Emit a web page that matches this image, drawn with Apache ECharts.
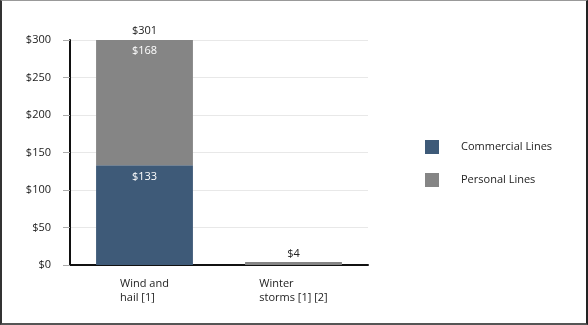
<!DOCTYPE html>
<html><head><meta charset="utf-8">
<script src="https://cdn.jsdelivr.net/npm/echarts@6/dist/echarts.min.js"></script>
<style>
html,body{margin:0;padding:0;background:#fff;}
#wrap{width:588px;height:325px;box-sizing:border-box;border-top:1px solid #999;border-left:2px solid #333;border-right:2px solid #222;border-bottom:2px solid #555;position:relative;overflow:hidden;}
#c{position:absolute;left:-2px;top:-1px;width:588px;height:325px;}
</style></head>
<body><div id="wrap"><div id="c"></div></div>
<script>
const categories = ["Wind and\nhail [1]", "Winter\nstorms [1] [2]"];
const commercialLines = [133, 0];
const personalLines = [168, 4];
const totals = [301, 4];
const yTicks = [0, 50, 100, 150, 200, 250, 300];

const font = "'Open Sans', 'Noto Sans', sans-serif";
const chart = echarts.init(document.getElementById('c'), null, {renderer: 'canvas'});
chart.setOption({
  animation: false,
  textStyle: {fontFamily: font},
  grid: {left: 70, right: 220, top: 40, bottom: 60, containLabel: false},
  legend: {
    data: ['Commercial Lines', 'Personal Lines'],
    orient: 'vertical', left: 420, top: 135,
    icon: 'rect', itemWidth: 14, itemHeight: 14, itemGap: 19,
    textStyle: {fontFamily: font, fontSize: 11, color: '#222', padding: [0, 0, 0, 17]}
  },
  xAxis: {
    type: 'category', data: categories,
    axisLine: {show: true, lineStyle: {color: '#111', width: 2}},
    axisTick: {show: false},
    axisLabel: {
      margin: 12, color: '#222', fontSize: 11, fontFamily: font, lineHeight: 14,
      formatter: v => v.split('\n').map(l => '{a|' + l + '}').join('\n'),
      rich: {a: {align: 'left', fontSize: 11, fontFamily: font, color: '#222', lineHeight: 14}}
    }
  },
  yAxis: [{
    type: 'value', min: 0, max: yTicks[yTicks.length - 1], interval: 50,
    axisLine: {show: false},
    axisTick: {show: true, length: 7, lineStyle: {color: '#aaa'}},
    axisLabel: {margin: 19, color: '#222', fontSize: 11, fontFamily: font, formatter: v => '$' + v},
    splitLine: {show: true, lineStyle: {color: '#e8e8e8', width: 1}}
  }, {
    type: 'value', min: 0, max: 308, position: 'left', offset: 0,
    axisLine: {show: true, lineStyle: {color: '#111', width: 2}},
    axisTick: {show: false}, axisLabel: {show: false}, splitLine: {show: false}
  }],
  series: [{
    name: 'Commercial Lines', type: 'bar', stack: 'a', barWidth: '65%',
    itemStyle: {color: '#3e5a78'},
    data: commercialLines,
    label: {show: true, position: 'insideTop', distance: 6, color: '#fff', fontSize: 11, fontFamily: font,
      formatter: p => p.dataIndex === 0 ? '$' + p.value : ''}
  }, {
    name: 'Personal Lines', type: 'bar', stack: 'a', barWidth: '65%',
    itemStyle: {color: '#858585'},
    data: personalLines,
    label: {show: true, position: 'insideTop', distance: 5, color: '#fff', fontSize: 11, fontFamily: font,
      formatter: p => p.dataIndex === 0 ? '$' + p.value : ''}
  }, {
    name: 'Total', type: 'bar', stack: 'a', barWidth: '65%', clip: false,
    itemStyle: {color: 'transparent'},
    data: totals.map(() => 0),
    label: {show: true, position: 'top', distance: 3, color: '#222', fontSize: 11, fontFamily: font,
      formatter: p => '$' + totals[p.dataIndex]}
  }]
});
</script></body></html>
